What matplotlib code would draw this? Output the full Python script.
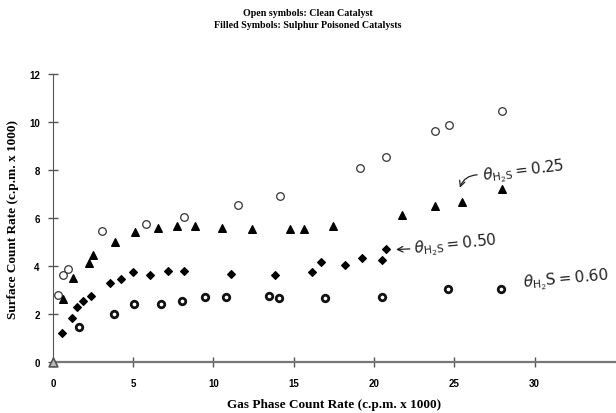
import matplotlib.pyplot as plt
import numpy as np

# Datos (c.p.m. x 1000)

# Catalizador limpio (circulos abiertos)
x_limpio = [0.33, 0.64, 0.91, 3.05, 5.79, 8.17, 11.55, 14.17, 19.1, 20.76, 23.83, 24.7, 28.0]
y_limpio = [2.79, 3.63, 3.88, 5.44, 5.75, 6.03, 6.54, 6.9, 8.07, 8.55, 9.64, 9.87, 10.46]

# theta H2S = 0.25 (triangulos)
x_025 = [0.64, 1.26, 2.26, 2.47, 3.84, 5.12, 6.53, 7.7, 8.86, 10.56, 12.4, 14.79, 15.64,
         17.44, 21.76, 23.83, 25.5, 28.0]
y_025 = [2.63, 3.5, 4.11, 4.46, 4.99, 5.43, 5.58, 5.65, 5.65, 5.6, 5.54, 5.54, 5.54,
         5.68, 6.14, 6.51, 6.65, 7.2]

# theta H2S = 0.50 (rombos)
x_050 = [0.54, 1.16, 1.47, 1.85, 2.34, 3.55, 4.25, 5.0, 6.04, 7.14, 8.19, 11.08, 13.84,
         16.16, 16.7, 18.19, 19.23, 20.5, 20.76]
y_050 = [1.21, 1.82, 2.3, 2.55, 2.74, 3.28, 3.46, 3.76, 3.63, 3.78, 3.8, 3.67, 3.63,
         3.76, 4.18, 4.04, 4.33, 4.26, 4.71]

# theta H2S = 0.60 (circulos gruesos)
x_060 = [1.64, 3.8, 5.06, 6.76, 8.01, 9.5, 10.81, 13.44, 14.08, 16.97, 20.5, 24.62, 27.94]
y_060 = [1.47, 2.0, 2.42, 2.42, 2.53, 2.72, 2.72, 2.74, 2.67, 2.67, 2.72, 3.04, 3.04]

xticks = [0, 5, 10, 15, 20, 25, 30]
yticks = [0, 2, 4, 6, 8, 10, 12]

fig = plt.figure(figsize=(6.16, 4.14), dpi=100)
ax = fig.add_axes([0.086, 0.123, 0.912, 0.696])

ax.scatter(x_limpio, y_limpio, s=30, facecolors='white', edgecolors='#333333', linewidths=0.9, zorder=3)
ax.scatter(x_025, y_025, s=30, marker='^', color='black', zorder=3)
ax.scatter(x_050, y_050, s=15, marker='D', color='black', zorder=3)
ax.scatter(x_060, y_060, s=22, facecolors='white', edgecolors='#111111', linewidths=2.0, zorder=3)
ax.scatter([0], [0], s=40, marker='^', facecolors='#bbbbbb', edgecolors='#555555', linewidths=1.2,
           zorder=4, clip_on=False)

# Ejes
ax.set_xlim(0, 35)
ax.set_ylim(0, 12)
ax.set_xticks(xticks)
ax.set_yticks(yticks)
ax.spines['top'].set_visible(False)
ax.spines['right'].set_visible(False)
ax.spines['left'].set_color('#555555')
ax.spines['bottom'].set_color('#777777')
ax.spines['bottom'].set_linewidth(1.6)
ax.tick_params(direction='inout', length=7, width=1, colors='#555555', labelcolor='black')
for lbl in ax.get_xticklabels() + ax.get_yticklabels():
    lbl.set_fontsize(7)
    lbl.set_fontweight('bold')
    lbl.set_family('Liberation Sans')
ax.tick_params(axis='x', pad=8)
ax.tick_params(axis='y', pad=6)

ax.set_xlabel('Gas Phase Count Rate (c.p.m. x 1000)', family='Liberation Serif',
              fontweight='bold', fontsize=9.5, labelpad=7)
ax.set_ylabel('Surface Count Rate (c.p.m. x 1000)', family='Liberation Serif',
              fontweight='bold', fontsize=9.5, labelpad=7)

fig.text(0.5, 0.978, 'Open symbols: Clean Catalyst\nFilled Symbols: Sulphur Poisoned Catalysts',
         ha='center', va='top', family='Liberation Serif', fontweight='bold', fontsize=7.2,
         linespacing=1.35)

# Anotaciones a mano
ax.text(26.7, 7.95, r'$\theta_{\mathrm{H_2S}}$$=0.25$', fontsize=11, rotation=7,
        va='center', ha='left', color='#222222')
ax.annotate('', xy=(25.3, 7.15), xytext=(26.6, 7.8),
            arrowprops=dict(arrowstyle='->', color='#222222', lw=0.9,
                            connectionstyle='arc3,rad=0.4'))
ax.text(22.4, 4.9, r'$\theta_{\mathrm{H_2S}}$$ = 0.50$', fontsize=11, rotation=6,
        va='center', ha='left', color='#222222')
ax.annotate('', xy=(21.2, 4.68), xytext=(22.4, 4.72),
            arrowprops=dict(arrowstyle='->', color='#222222', lw=0.9))
ax.text(29.25, 3.45, r'$\theta_{\mathrm{H_2}}$S$= 0.60$', fontsize=11, rotation=5,
        va='center', ha='left', color='#222222')

fig.savefig('out.png', dpi=100)
